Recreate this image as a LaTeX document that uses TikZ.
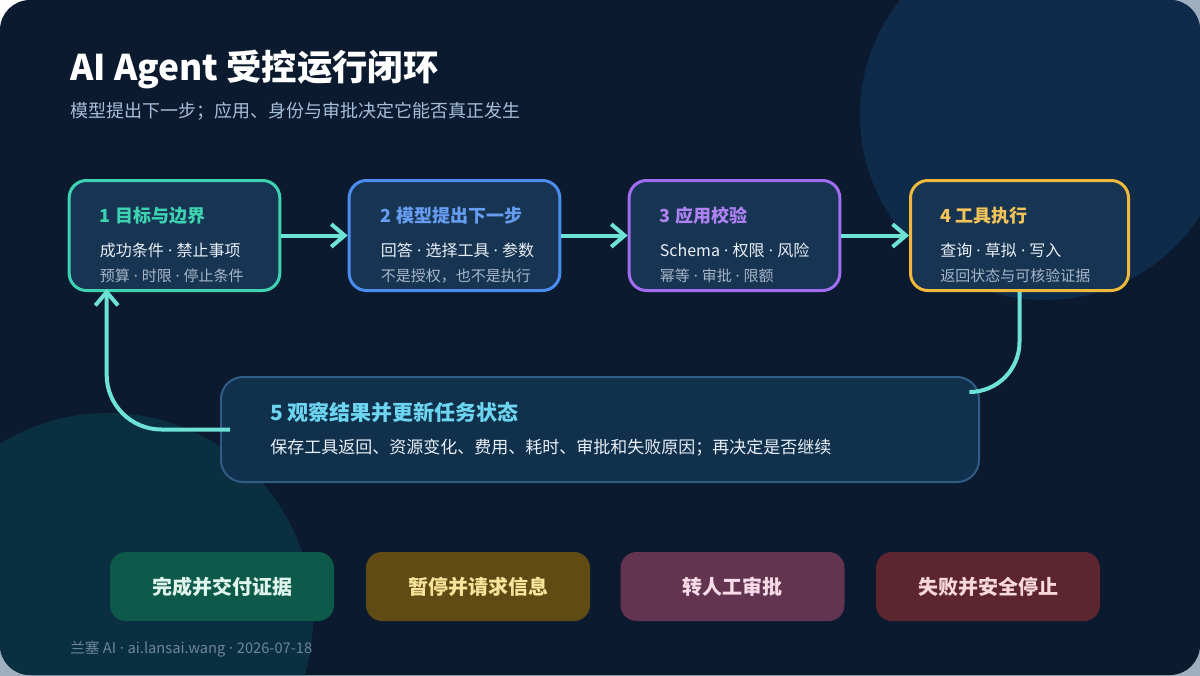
\documentclass[tikz,border=0pt]{standalone}
\usepackage{fontspec}
\setmainfont{Noto Sans CJK SC}
\newfontfamily\latinfont{Noto Sans}
\newcommand{\mdot}{{\latinfont\ ·\ }}
\usepackage{tikz}
\usetikzlibrary{arrows.meta,positioning,calc,shadings}
\usepackage{xcolor}
\definecolor{outerbg}{HTML}{9DAFBF}
\definecolor{cardbg}{HTML}{0B1A2E}
\definecolor{blobblue}{HTML}{0F2B4A}
\definecolor{blobteal}{HTML}{0A2F40}
\definecolor{boxfill}{HTML}{173452}
\definecolor{obsfill}{HTML}{10304C}
\definecolor{obsline}{HTML}{2F5D85}
\definecolor{goalteal}{HTML}{3DD3B0}
\definecolor{modelblue}{HTML}{4C8CEF}
\definecolor{checkpurple}{HTML}{A06CF0}
\definecolor{toolyellow}{HTML}{F0B93C}
\definecolor{flowaqua}{HTML}{6FE2D8}
\definecolor{obscyan}{HTML}{6DD5F0}
\definecolor{maintext}{HTML}{E9EFF6}
\definecolor{subtext}{HTML}{A6B6C8}
\definecolor{leadtext}{HTML}{A6BEDA}
\definecolor{foottext}{HTML}{6F8499}
\definecolor{donegreen}{HTML}{0D5A4B}
\definecolor{donetext}{HTML}{E0F5EC}
\definecolor{pausebrown}{HTML}{614B14}
\definecolor{pausetext}{HTML}{F7E39A}
\definecolor{humanplum}{HTML}{63344F}
\definecolor{humantext}{HTML}{F8DBE9}
\definecolor{failred}{HTML}{5D2530}
\definecolor{failtext}{HTML}{F8D8DC}

\begin{document}
\begin{tikzpicture}[x=0.75pt, y=-0.75pt,
    stepbox/.style={rectangle, draw, line width=2.25pt, fill=boxfill, rounded corners=13pt,
               minimum width=158pt, minimum height=82.5pt},
    obsbox/.style={rectangle, draw=obsline, line width=1.5pt, fill=obsfill, rounded corners=16.5pt,
               minimum width=568.5pt, minimum height=78.75pt},
    endbox/.style={rectangle, rounded corners=12pt, minimum width=168pt, minimum height=51.75pt,
               font=\fontsize{15pt}{18pt}\selectfont\bfseries},
    steptitle/.style={anchor=base west, inner sep=0pt, font=\fontsize{13.5pt}{16pt}\selectfont\bfseries},
    stepmain/.style={anchor=base west, inner sep=0pt, text=maintext, font=\fontsize{12pt}{14pt}\selectfont},
    stepnote/.style={anchor=base west, inner sep=0pt, text=subtext, font=\fontsize{11.25pt}{13pt}\selectfont},
    flow/.style={draw=flowaqua, line width=3pt},
    tip/.style={-{Straight Barb[length=10pt, width=17pt]}}
]
    % card and background blobs
    \shade[upper left=white, upper right=outerbg, lower left=outerbg, lower right=outerbg] (0,0) rectangle (1200,675);
    \fill[cardbg, rounded corners=22.5pt] (0,0) rectangle (1200,675);
    \begin{scope}
        \clip[rounded corners=22.5pt] (0,0) rectangle (1200,675);
        \fill[blobblue] (1045,115) circle (138.75pt);
        \fill[blobteal] (108,618) circle (153.75pt);
    \end{scope}

    % heading
    \node[anchor=base west, inner sep=0pt, text=white, font=\fontsize{26.5pt}{30pt}\selectfont\bfseries] (title) at (70,80) {AI Agent 受控运行闭环};
    \node[anchor=base west, inner sep=0pt, text=leadtext, font=\fontsize{13.5pt}{16pt}\selectfont] (lead) at (70,117) {模型提出下一步；应用、身份与审批决定它能否真正发生};

    % the four steps
    \node[stepbox, draw=goalteal] (goal) at (174.5,235.5) {};
    \node[stepbox, draw=modelblue] (model) at (454.5,235.5) {};
    \node[stepbox, draw=checkpurple] (check) at (734.5,235.5) {};
    \node[stepbox, draw=toolyellow, minimum width=163.5pt] (tool) at (1019.5,235.5) {};

    \node[steptitle, text=goalteal] at ($(goal.north west)+(32,43)$) {1 目标与边界};
    \node[stepmain] at ($(goal.north west)+(32,77)$) {成功条件\mdot 禁止事项};
    \node[stepnote] at ($(goal.north west)+(32,102)$) {预算\mdot 时限\mdot 停止条件};

    \node[steptitle, text=modelblue!85!white] at ($(model.north west)+(33,43)$) {2 模型提出下一步};
    \node[stepmain] at ($(model.north west)+(33,77)$) {回答\mdot 选择工具\mdot 参数};
    \node[stepnote] at ($(model.north west)+(33,102)$) {不是授权，也不是执行};

    \node[steptitle, text=checkpurple!85!white] at ($(check.north west)+(32,43)$) {3 应用校验};
    \node[stepmain] at ($(check.north west)+(32,77)$) {Schema\mdot 权限\mdot 风险};
    \node[stepnote] at ($(check.north west)+(32,102)$) {幂等\mdot 审批\mdot 限额};

    \node[steptitle, text=toolyellow!85!white] at ($(tool.north west)+(31,43)$) {4 工具执行};
    \node[stepmain] at ($(tool.north west)+(31,77)$) {查询\mdot 草拟\mdot 写入};
    \node[stepnote] at ($(tool.north west)+(31,102)$) {返回状态与可核验证据};

    % observation
    \node[obsbox] (observe) at (600,429.5) {};
    \node[anchor=base west, inner sep=0pt, text=obscyan, font=\fontsize{15.75pt}{18pt}\selectfont\bfseries] at ($(observe.north west)+(50,44)$) {5 观察结果并更新任务状态};
    \node[anchor=base west, inner sep=0pt, text=maintext, font=\fontsize{12.75pt}{15pt}\selectfont] at ($(observe.north west)+(50,77.5)$) {保存工具返回、资源变化、费用、耗时、审批和失败原因；再决定是否继续};

    % connectors
    \coordinate (obsin) at ($(observe.north east)+(-10,16)$);
    \coordinate (obsout) at ($(observe.west)+(10,0)$);
    \coordinate (goalin) at ($(goal.south west)+(39,-3)$);
    \draw[flow, tip] (goal.east) -- (model.west);
    \draw[flow, tip] (model.east) -- (check.west);
    \draw[flow, tip] (check.east) -- (tool.west);
    \draw[flow, rounded corners=37.5pt] (tool.south) |- (obsin);
    \draw[flow, tip, rounded corners=41pt] (obsout) -| (goalin);

    % possible endings
    \node[endbox, fill=donegreen, text=donetext] (done) at (222,586.5) {完成并交付证据};
    \node[endbox, fill=pausebrown, text=pausetext] (pause) at (478,586.5) {暂停并请求信息};
    \node[endbox, fill=humanplum, text=humantext] (human) at (732.5,586.5) {转人工审批};
    \node[endbox, fill=failred, text=failtext] (fail) at (988,586.5) {失败并安全停止};

    \node[anchor=base west, inner sep=0pt, text=foottext, font=\fontsize{11pt}{13pt}\selectfont] (foot) at (70,653) {兰塞 AI\mdot ai.lansai.wang\mdot 2026-07-18};
\end{tikzpicture}
\end{document}
